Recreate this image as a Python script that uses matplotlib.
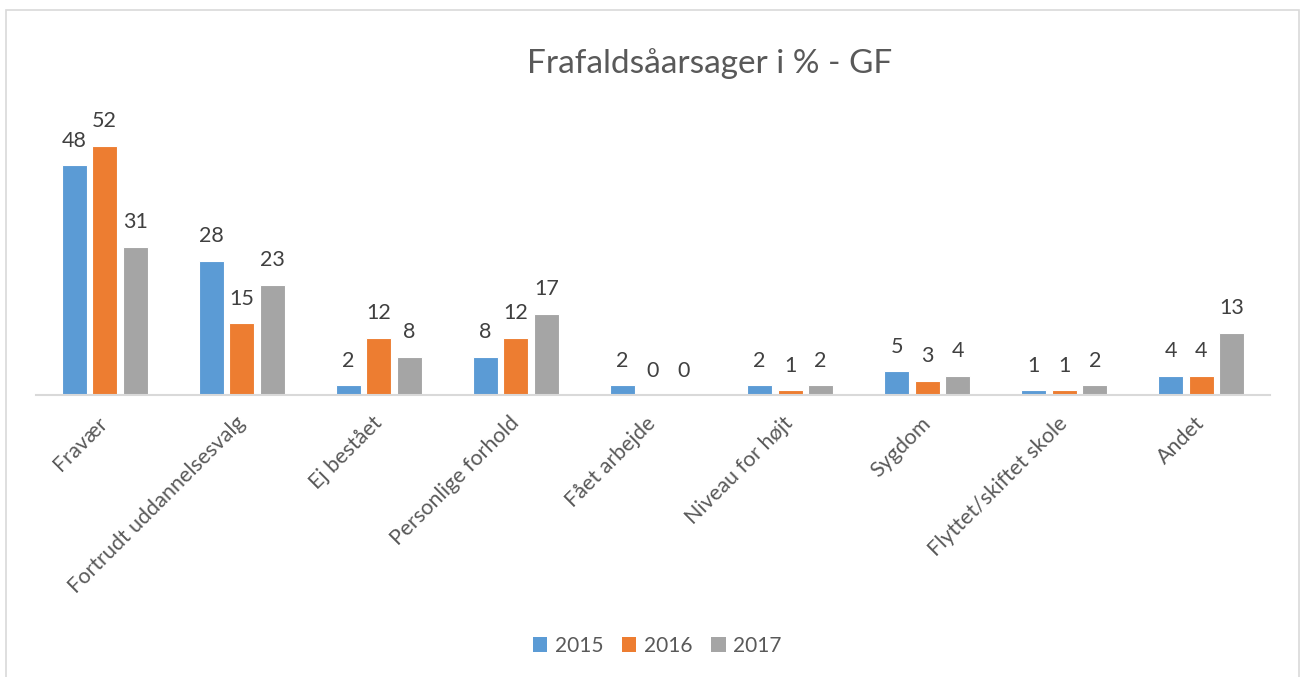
import matplotlib
matplotlib.use("Agg")
import matplotlib.pyplot as plt
from matplotlib.patches import Rectangle, Patch
import numpy as np

plt.rcParams['font.family'] = ['Lato', 'DejaVu Sans']

title = "Frafaldsåarsager i % - GF"
categories = ["Fravær", "Fortrudt uddannelsesvalg", "Ej bestået", "Personlige forhold",
              "Fået arbejde", "Niveau for højt", "Sygdom", "Flyttet/skiftet skole", "Andet"]
series_names = ["2015", "2016", "2017"]
values_2015 = [48, 28, 2, 8, 2, 2, 5, 1, 4]
values_2016 = [52, 15, 12, 12, 0, 1, 3, 1, 4]
values_2017 = [31, 23, 8, 17, 0, 2, 4, 2, 13]
colors = ["#5B9BD5", "#ED7D31", "#A5A5A5"]

W, H = 1301, 677
fig = plt.figure(figsize=(W / 100, H / 100), dpi=100)
fig.patch.set_facecolor("white")

# axes placement in pixels
ax_left, ax_right = 36, 1270
ax_base = 395
px_per_unit = 4.79
ymax = 60
ax = fig.add_axes([ax_left / W, (H - ax_base) / H, (ax_right - ax_left) / W,
                   ymax * px_per_unit / H])

n = len(categories)
x = np.arange(n)
pitch = 0.2225
bw = 0.182
text_color = "#595959"
all_vals = [values_2015, values_2016, values_2017]
for i, (vals, c, name) in enumerate(zip(all_vals, colors, series_names)):
    pos = x + (i - 1) * pitch
    ax.bar(pos, vals, width=bw, color=c, edgecolor="white", linewidth=0.8, label=name, zorder=2)
    for px, v in zip(pos, vals):
        ax.annotate(str(v), (px, v), xytext=(0, 13.3), textcoords="offset points",
                    ha="center", va="baseline", fontsize=15.5, color="#404040")

ax.set_xlim(-0.5, n - 0.5)
ax.set_ylim(0, ymax)
for s in ["top", "right", "left"]:
    ax.spines[s].set_visible(False)
ax.spines["bottom"].set_color("#D9D9D9")
ax.spines["bottom"].set_linewidth(1.5)
ax.set_yticks([])
ax.set_xticks(x)
ax.set_xticklabels(categories, rotation=45, ha="right", va="center",
                   rotation_mode="anchor", fontsize=15.5, color=text_color)
ax.tick_params(axis="x", length=0, pad=18)
ax.patch.set_visible(False)

fig.text(710 / W, 1 - 64 / H, title, ha="center", va="center", fontsize=24, color=text_color)

handles = [Patch(facecolor=c, edgecolor="none") for c in colors]
leg = fig.legend(handles, series_names, loc="center", bbox_to_anchor=(657 / W, 1 - 646 / H),
                 ncol=3, frameon=False, fontsize=15, handlelength=0.7, handleheight=0.7,
                 handletextpad=0.35, columnspacing=0.9, labelcolor=text_color)

fig.add_artist(Rectangle((6 / W, -0.2), (1299 - 6) / W, 1.2 - 10 / H,
                         transform=fig.transFigure, fill=False, edgecolor="#D9D9D9",
                         linewidth=1.2))

fig.savefig("out.png", dpi=100, facecolor="white")
